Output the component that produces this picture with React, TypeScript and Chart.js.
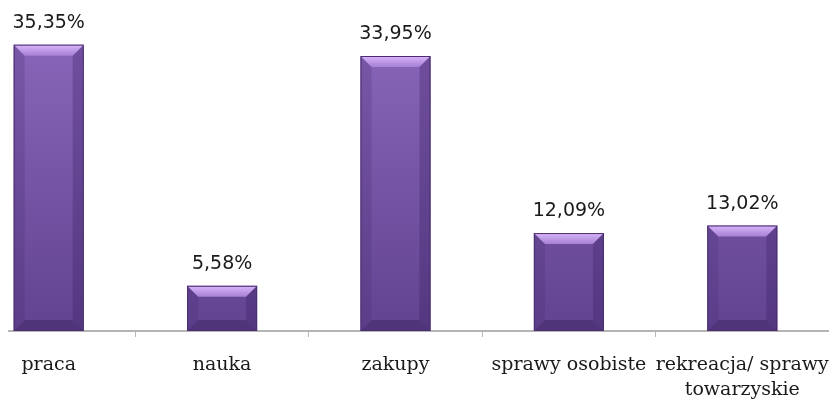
import React, { useEffect, useRef } from "react";
import { Chart, registerables } from "chart.js";

Chart.register(...registerables);

const categories: (string | string[])[] = [
  "praca",
  "nauka",
  "zakupy",
  "sprawy osobiste",
  ["rekreacja/ sprawy", "towarzyskie"],
];
const values = [35.35, 5.58, 33.95, 12.09, 13.02];
const valueLabels = ["35,35%", "5,58%", "33,95%", "12,09%", "13,02%"];
const yMax = 40;

const bevelPlugin = {
  id: "bevelBars",
  afterDatasetsDraw(chart: any) {
    const ctx = chart.ctx;
    const meta = chart.getDatasetMeta(0);
    meta.data.forEach((bar: any, i: number) => {
      const w = bar.width;
      const l = bar.x - w / 2;
      const r = bar.x + w / 2;
      const t = bar.y;
      const b = bar.base;
      const h = b - t;
      const bv = Math.min(11, h / 3);
      const sv = Math.min(11, w / 5);
      ctx.save();
      // top bevel
      const gTop = ctx.createLinearGradient(0, t, 0, t + bv);
      gTop.addColorStop(0, "#dbb6fb");
      gTop.addColorStop(1, "#a580d4");
      ctx.fillStyle = gTop;
      ctx.beginPath();
      ctx.moveTo(l, t);
      ctx.lineTo(r, t);
      ctx.lineTo(r - sv, t + bv);
      ctx.lineTo(l + sv, t + bv);
      ctx.closePath();
      ctx.fill();
      // left side
      ctx.fillStyle = "rgba(70,40,110,0.22)";
      ctx.beginPath();
      ctx.moveTo(l, t);
      ctx.lineTo(l + sv, t + bv);
      ctx.lineTo(l + sv, b - bv);
      ctx.lineTo(l, b);
      ctx.closePath();
      ctx.fill();
      // right side
      ctx.fillStyle = "rgba(50,25,90,0.28)";
      ctx.beginPath();
      ctx.moveTo(r, t);
      ctx.lineTo(r - sv, t + bv);
      ctx.lineTo(r - sv, b - bv);
      ctx.lineTo(r, b);
      ctx.closePath();
      ctx.fill();
      // bottom bevel
      ctx.fillStyle = "rgba(40,20,70,0.3)";
      ctx.beginPath();
      ctx.moveTo(l, b);
      ctx.lineTo(r, b);
      ctx.lineTo(r - sv, b - bv);
      ctx.lineTo(l + sv, b - bv);
      ctx.closePath();
      ctx.fill();
      // outline
      ctx.strokeStyle = "#4a2d6e";
      ctx.lineWidth = 1;
      ctx.strokeRect(l + 0.5, t + 0.5, w - 1, h - 1);
      // value label
      ctx.fillStyle = "#1a1a1a";
      ctx.font = "19px 'DejaVu Sans'";
      ctx.textAlign = "center";
      ctx.textBaseline = "alphabetic";
      ctx.fillText(valueLabels[i], bar.x, t - 17);
      ctx.restore();
    });
  },
};

export default function App() {
  const ref = useRef<HTMLCanvasElement>(null);
  useEffect(() => {
    if (!ref.current) return;
    const chart = new Chart(ref.current, {
      type: "bar",
      data: {
        labels: categories as any,
        datasets: [
          {
            data: values,
            backgroundColor: (c: any) => {
              const ca = c.chart.chartArea;
              if (!ca) return "#7654a4";
              const g = c.chart.ctx.createLinearGradient(0, ca.top, 0, ca.bottom);
              g.addColorStop(0, "#8d69bd");
              g.addColorStop(1, "#614390");
              return g;
            },
            borderWidth: 0,
            barPercentage: 0.404,
            categoryPercentage: 1,
          },
        ],
      },
      options: {
        animation: false,
        responsive: false,
        maintainAspectRatio: false,
        layout: { padding: { top: 7, left: 0, right: 0, bottom: 0 } },
        plugins: { legend: { display: false }, tooltip: { enabled: false } },
        scales: {
          x: {
            afterFit: (s: any) => {
              s.height = 70;
              s.paddingLeft = 0;
              s.paddingRight = 0;
            },
            grid: {
              display: true,
              drawOnChartArea: false,
              drawTicks: true,
              tickLength: 6,
              color: "#b8b8b8",
              offset: true,
            },
            border: { display: true, color: "#b5b5b5", width: 2 },
            ticks: {
              autoSkip: false,
              maxRotation: 0,
              minRotation: 0,
              padding: 16,
              color: "#1a1a1a",
              font: { family: "'DejaVu Serif'", size: 19, lineHeight: 1.3 },
            },
          },
          y: {
            display: false,
            min: 0,
            max: yMax,
          },
        },
      },
      plugins: [bevelPlugin],
    });
    return () => chart.destroy();
  }, []);
  return (
    <div
      style={{
        position: "absolute",
        left: 8,
        top: 0,
        width: 822,
        height: 401,
        overflow: "hidden",
        background: "#fff",
      }}
    >
      <div style={{ position: "absolute", left: -46, top: 0, width: 867, height: 401 }}>
        <canvas ref={ref} width={867} height={401} style={{ display: "block" }} />
      </div>
    </div>
  );
}
